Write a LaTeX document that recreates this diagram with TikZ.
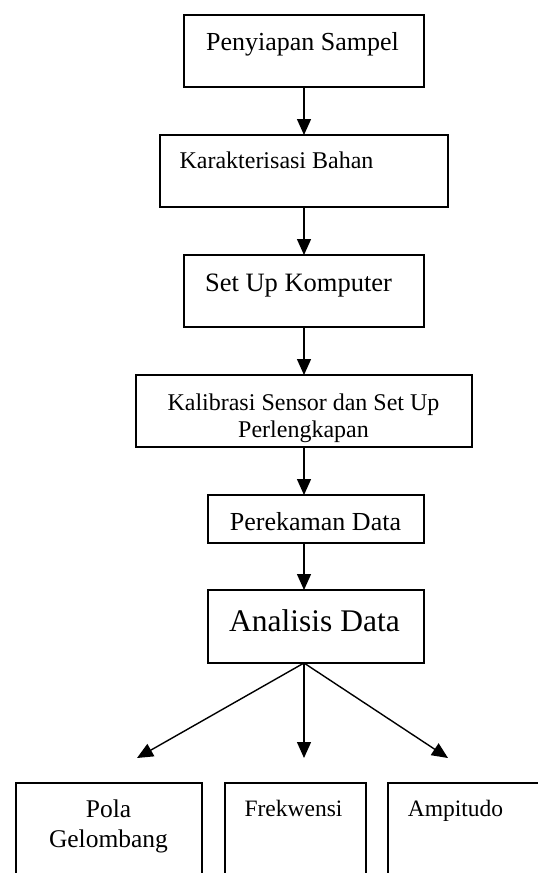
\documentclass[tikz,border=0pt]{standalone}
\usepackage{fontspec}
\setmainfont{Liberation Serif}
\usetikzlibrary{arrows.meta,positioning}

\begin{document}
\begin{tikzpicture}[x=1pt,y=-1pt,
  box/.style={draw, line width=1.3pt, inner sep=0pt, outer sep=0pt},
  lbl/.style={anchor=base, inner sep=0pt},
  flow/.style={line width=1.4pt, -{Triangle[width=14pt,length=16pt]}}]
\useasboundingbox (0,0) rectangle (538,873);
\clip (0,0) rectangle (538,873);

% Draw boxes
\node[box, minimum width=240pt, minimum height=72pt] (prep) at (304,51) {};
\node[box, minimum width=288pt, minimum height=72pt] (karak) at (304,171) {};
\node[box, minimum width=240pt, minimum height=72pt] (komp) at (304,291) {};
\node[box, minimum width=336pt, minimum height=72pt] (kalib) at (304,411) {};
\node[box, minimum width=216pt, minimum height=48pt] (rekam) at (316,519) {};
\node[box, minimum width=216pt, minimum height=73pt] (anal) at (316,626.5) {};
\node[box, minimum width=186pt, minimum height=107pt] (pola) at (109,836.5) {};
\node[box, minimum width=141pt, minimum height=107pt] (frek) at (295.5,836.5) {};
\node[box, minimum width=172pt, minimum height=107pt] (ampl) at (474,836.5) {};

% Texts (multi-line ones sit on their last baseline)
\node[lbl, font=\fontsize{26}{30}\selectfont] at (302.5,50) {Penyiapan Sampel};
\node[lbl, font=\fontsize{24}{28}\selectfont] at (276.5,168) {Karakterisasi Bahan};
\node[lbl, font=\fontsize{26.5}{30}\selectfont] at (298.5,291.7) {Set Up Komputer};
\node[lbl, font=\fontsize{24}{27}\selectfont, align=center] at (303.5,437) {Kalibrasi Sensor dan Set Up\\Perlengkapan};
\node[lbl, font=\fontsize{26}{30}\selectfont] at (315.5,530) {Perekaman Data};
\node[lbl, font=\fontsize{31.5}{36}\selectfont] at (314.5,631.7) {Analisis Data};
\node[lbl, font=\fontsize{25.5}{30}\selectfont, align=center] at (108.5,847) {Pola\\Gelombang};
\node[lbl, font=\fontsize{23.5}{28}\selectfont] at (293.5,816) {Frekwensi};
\node[lbl, font=\fontsize{23.5}{28}\selectfont] at (455.5,816) {Ampitudo};

% Arrows
\draw[flow] (prep) -- (karak);
\draw[flow] (karak) -- (komp);
\draw[flow] (komp) -- (kalib);
\draw[flow] (kalib.south) -- (kalib.south |- rekam.north);
\draw[flow] (kalib.south |- rekam.south) -- (kalib.south |- anal.north);

\coordinate (tipL) at (137,758);
\coordinate (tipM) at (304,758);
\coordinate (tipR) at (448,758);
\coordinate (fork) at (kalib.south |- anal.south);
\draw[flow] (fork) -- (tipL);
\draw[flow] (fork) -- (tipM);
\draw[flow] (fork) -- (tipR);
\end{tikzpicture}
\end{document}
